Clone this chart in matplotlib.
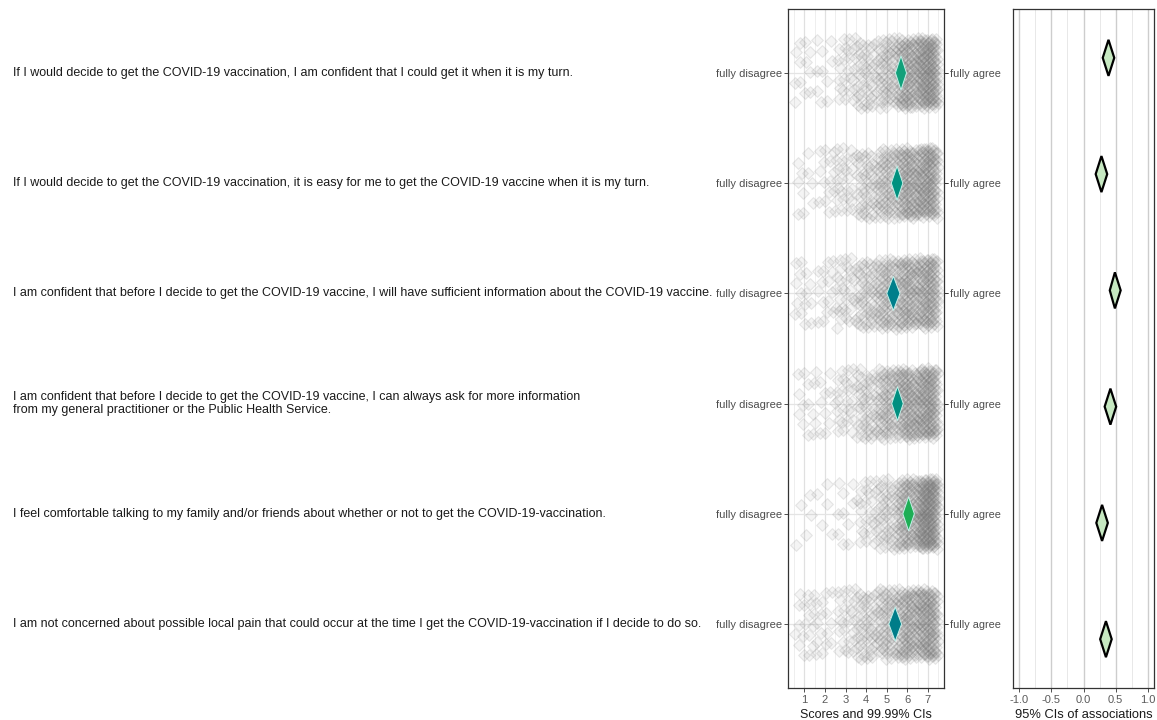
import numpy as np
import matplotlib
matplotlib.use("Agg")
import matplotlib.pyplot as plt
from matplotlib.transforms import blended_transform_factory
from matplotlib.patches import Polygon

plt.rcParams['font.family'] = ['Liberation Sans', 'DejaVu Sans']

# ---------------- data ----------------
items = [
    "If I would decide to get the COVID-19 vaccination, I am confident that I could get it when it is my turn.",
    "If I would decide to get the COVID-19 vaccination, it is easy for me to get the COVID-19 vaccine when it is my turn.",
    "I am confident that before I decide to get the COVID-19 vaccine, I will have sufficient information about the COVID-19 vaccine.",
    "I am confident that before I decide to get the COVID-19 vaccine, I can always ask for more information\nfrom my general practitioner or the Public Health Service.",
    "I feel comfortable talking to my family and/or friends about whether or not to get the COVID-19-vaccination.",
    "I am not concerned about possible local pain that could occur at the time I get the COVID-19-vaccination if I decide to do so.",
]
score_levels = [1, 2, 3, 4, 5, 6, 7]
# estimated number of respondents per score level, per item
counts_item1 = [12, 10, 25, 40, 60, 110, 150]
counts_item2 = [10, 15, 25, 45, 70, 110, 130]
counts_item3 = [15, 15, 30, 50, 75, 100, 115]
counts_item4 = [12, 12, 25, 45, 75, 110, 130]
counts_item5 = [5, 5, 10, 25, 45, 100, 180]
counts_item6 = [18, 15, 25, 45, 65, 100, 125]
counts = [counts_item1, counts_item2, counts_item3, counts_item4, counts_item5, counts_item6]

# mean scores with 99.99% CIs
score_mean = [5.69, 5.50, 5.32, 5.52, 6.06, 5.41]
score_lo = [5.42, 5.22, 5.00, 5.24, 5.78, 5.10]
score_hi = [5.96, 5.78, 5.64, 5.80, 6.34, 5.72]
diamond_colors = ['#12a07a', '#00917f', '#007f8b', '#008f80', '#1eae55', '#007d89']

# associations with 95% CIs
assoc_mean = [0.39, 0.28, 0.49, 0.42, 0.29, 0.35]
assoc_lo = [0.30, 0.19, 0.41, 0.33, 0.20, 0.26]
assoc_hi = [0.48, 0.37, 0.58, 0.51, 0.38, 0.44]

anchor_low = "fully disagree"
anchor_high = "fully agree"
score_ticks = [1, 2, 3, 4, 5, 6, 7]
assoc_ticks = [-1.0, -0.5, 0.0, 0.5, 1.0]
xlabel_mid = "Scores and 99.99% CIs"
xlabel_right = "95% CIs of associations"

# ---------------- figure ----------------
W, H = 1157, 720
fig = plt.figure(figsize=(W / 100, H / 100), dpi=100)
fig.patch.set_facecolor('white')

ax_m = fig.add_axes([788 / W, (H - 688) / H, 156 / W, 679 / H])
ax_r = fig.add_axes([1013 / W, (H - 688) / H, 141 / W, 679 / H])

n = len(items)
rows = np.arange(1, n + 1)

tick_col = '#5a5a5a'

# middle panel
ax_m.set_xlim(0.2, 7.78)
ax_m.set_ylim(n + 0.58, 0.42)
for v in np.arange(0.5, 8.0, 0.5):
    major = float(v).is_integer()
    ax_m.axvline(v, color='#e0e0e0' if major else '#ebebeb', lw=0.9 if major else 0.6, zorder=0)
for r in rows:
    ax_m.axhline(r, color='#e4e4e4', lw=0.9, zorder=0)

# jittered individual scores (deterministic low-discrepancy layout)
g1, g2 = 0.7548776662466927, 0.5698402910028654
for i, cnts in enumerate(counts):
    xs, ys = [], []
    k = 0
    for s, c in zip(score_levels, cnts):
        for j in range(c):
            k += 1
            u = (0.5 + k * g1 + i * 0.137) % 1.0
            w = (0.5 + k * g2 + i * 0.291) % 1.0
            xs.append(s + (u - 0.5) * 0.95)
            ys.append(rows[i] + (w - 0.5) * 0.64)
    ax_m.scatter(xs, ys, marker='D', s=36, facecolors=(0.45, 0.45, 0.45, 0.08),
                 edgecolors=(0.42, 0.42, 0.42, 0.14), linewidths=0.8, zorder=2)

dh = 0.155
for i in range(n):
    r = rows[i]
    poly = Polygon([[score_lo[i], r], [score_mean[i], r - dh], [score_hi[i], r], [score_mean[i], r + dh]],
                   closed=True, facecolor=diamond_colors[i], edgecolor='#c4f0e8', lw=0.7, zorder=4)
    ax_m.add_patch(poly)

ax_m.set_xticks(score_ticks)
ax_m.set_xticklabels([str(t) for t in score_ticks])
ax_m.set_yticks(rows)
ax_m.set_yticklabels([anchor_low] * n)
ax_m.tick_params(axis='y', which='both', left=True, right=True, labelleft=True, labelright=False,
                 length=3, width=0.6, color='#333333', labelsize=8.0, labelcolor='#4d4d4d', pad=1.5)
ax_m.tick_params(axis='x', length=3, width=0.6, color='#333333', labelsize=8.0, labelcolor=tick_col, pad=2)
sec = ax_m.secondary_yaxis('right')
sec.set_yticks(rows)
sec.set_yticklabels([anchor_high] * n)
sec.tick_params(length=3, width=0.6, color='#333333', labelsize=7.8, labelcolor='#4d4d4d', pad=1.5)
sec.spines['right'].set_visible(False)
ax_m.set_xlabel(xlabel_mid, fontsize=9, color='#1a1a1a', labelpad=3.2)
for sp in ax_m.spines.values():
    sp.set_color('#333333')
    sp.set_linewidth(0.9)

# right panel
ax_r.set_xlim(-1.1, 1.1)
ax_r.set_ylim(n + 0.42, 0.58)
for v in np.arange(-1.0, 1.01, 0.25):
    major = abs(v * 2 - round(v * 2)) < 1e-9
    ax_r.axvline(v, color='#cdcdcd' if major else '#e8e8e8', lw=1.0 if major else 0.7, zorder=0)
dh_r = 0.155
for i in range(n):
    r = rows[i]
    poly = Polygon([[assoc_lo[i], r], [assoc_mean[i], r - dh_r], [assoc_hi[i], r], [assoc_mean[i], r + dh_r]],
                   closed=True, facecolor='#c6e8c1', edgecolor='black', lw=1.6, zorder=4)
    ax_r.add_patch(poly)
ax_r.set_xticks(assoc_ticks)
ax_r.set_xticklabels([f"{t:.1f}" for t in assoc_ticks])
ax_r.set_yticks([])
ax_r.tick_params(axis='x', length=3, width=0.6, color='#333333', labelsize=8.0, labelcolor=tick_col, pad=2)
ax_r.set_xlabel(xlabel_right, fontsize=9.3, color='#1a1a1a', labelpad=3.2)
for sp in ax_r.spines.values():
    sp.set_color('#333333')
    sp.set_linewidth(0.9)

# item labels on the left
trans = blended_transform_factory(fig.transFigure, ax_m.transData)
for i, txt in enumerate(items):
    fig.text(13 / W, rows[i], txt, transform=trans, ha='left', va='center',
             fontsize=9.0, color='#1a1a1a', linespacing=1.05)

fig.savefig('out.png', dpi=100, facecolor='white')
